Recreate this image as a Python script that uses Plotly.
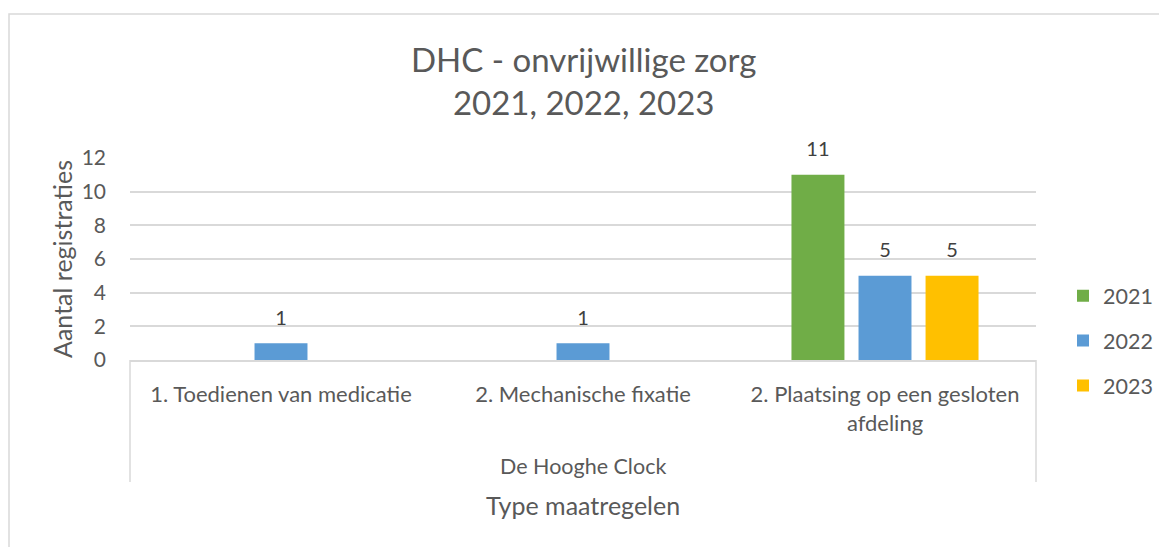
import plotly.graph_objects as go

categories = ["1. Toedienen van medicatie", "2. Mechanische fixatie", "2. Plaatsing op een gesloten<br>afdeling"]
group_label = "De Hooghe Clock"
series_names = ["2021", "2022", "2023"]
values_2021 = [None, None, 11]
values_2022 = [1, 1, 5]
values_2023 = [None, None, 5]
colors = ["#70AD47", "#5B9BD5", "#FFC000"]

FONT = "Lato"
TXT = "#595959"
GRID = "#D9D9D9"
BARGAP = 0.334

fig = go.Figure()
all_vals = [values_2021, values_2022, values_2023]
for name, vals, col in zip(series_names, all_vals, colors):
    fig.add_trace(go.Bar(
        x=categories, y=vals, name=name, marker=dict(color=col, line=dict(width=0)),
        legendgroup=name, hoverinfo="skip",
    ))
# Data labels: grouped text-only scatter traces aligned with the bars
for name, vals in zip(series_names, all_vals):
    fig.add_trace(go.Scatter(
        x=categories, y=vals, mode="markers+text", showlegend=False, hoverinfo="skip",
        text=[("" if v is None else str(v)) for v in vals], textposition="top center",
        marker=dict(size=20, opacity=0), cliponaxis=False,
        textfont=dict(family=FONT, size=20, color="#404040"),
    ))

fig.update_layout(
    width=1159, height=547,
    margin=dict(l=130, r=123, t=158, b=187, autoexpand=False),
    paper_bgcolor="white", plot_bgcolor="white",
    barmode="group", bargap=BARGAP, bargroupgap=0.21,
    scattermode="group", scattergap=BARGAP,
    font=dict(family=FONT, color=TXT),
    showlegend=True,
    legend=dict(x=(1063 - 130) / 906, xanchor="left", y=0.42, yanchor="top", yref="paper",
                font=dict(family=FONT, size=21.5, color=TXT), tracegroupgap=14,
                itemwidth=30, bgcolor="rgba(0,0,0,0)"),
    xaxis=dict(showgrid=False, showline=True, linecolor=GRID, linewidth=1.5,
               ticks="", tickfont=dict(family=FONT, size=22, color=TXT), zeroline=False,
               ticklabelstandoff=14),
    yaxis=dict(range=[0, 12], dtick=2, showgrid=True, gridcolor=GRID, gridwidth=1.5,
               zeroline=False, showline=False, tickfont=dict(family=FONT, size=21, color=TXT),
               ticks="", ticklabelstandoff=23,
               title=dict(text="Aantal registraties", font=dict(family=FONT, size=25, color=TXT), standoff=1)),
)

# Title
fig.add_annotation(text="DHC - onvrijwillige zorg<br>2021, 2022, 2023", xref="paper", yref="paper",
                   x=0.5, y=1 + (158 - 80) / 202, xanchor="center", yanchor="middle", showarrow=False,
                   font=dict(family=FONT, size=33, color=TXT), align="center")
# Group label and axis title
fig.add_annotation(text=group_label, xref="paper", yref="paper", x=0.5, y=-(466 - 360) / 202,
                   xanchor="center", yanchor="middle", showarrow=False,
                   font=dict(family=FONT, size=21.5, color=TXT))
fig.add_annotation(text="Type maatregelen", xref="paper", yref="paper", x=0.5, y=-(505 - 360) / 202,
                   xanchor="center", yanchor="middle", showarrow=False,
                   font=dict(family=FONT, size=25, color=TXT))

# Multi-level axis separators
for xp in [0, 1]:
    fig.add_shape(type="line", xref="paper", yref="paper", x0=xp, x1=xp, y0=0, y1=-(482 - 360) / 202,
                  line=dict(color=GRID, width=1.5))

# Chart border
fig.add_shape(type="rect", xref="paper", yref="paper",
              x0=-(130 - 9) / 906, x1=1.3, y0=-1.2, y1=1 + (158 - 14) / 202,
              line=dict(color=GRID, width=1.5), fillcolor="rgba(0,0,0,0)", layer="below")

fig.write_html("out.html", config={"displayModeBar": False})
with open("out.html", encoding="utf-8") as f:
    html = f.read()
html = html.replace("<head>", "<head><style>html,body{margin:0;padding:0;overflow:hidden;}</style>", 1)
with open("out.html", "w", encoding="utf-8") as f:
    f.write(html)
